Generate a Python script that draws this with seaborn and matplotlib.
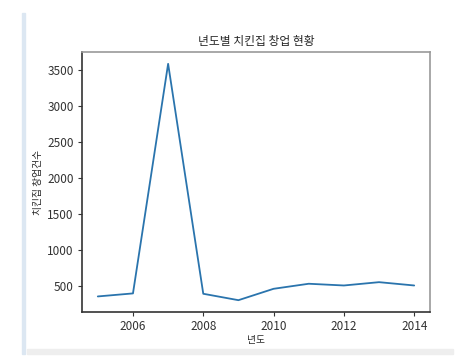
import pandas as pd
import matplotlib
matplotlib.use('Agg')
import matplotlib.pyplot as plt
import seaborn as sns
from matplotlib.patches import Rectangle

years = [2005, 2006, 2007, 2008, 2009, 2010, 2011, 2012, 2013, 2014]
counts = [352, 394, 3580, 389, 300, 458, 528, 504, 550, 504]

data = pd.DataFrame({'년도': years, '치킨집 창업건수': counts})

sns.set_style('ticks')
plt.rcParams['font.family'] = ['Noto Sans CJK KR', 'DejaVu Sans']

W, H = 459, 358
fig = plt.figure(figsize=(W / 100, H / 100), dpi=100)
fig.patch.set_facecolor('white')

# blog frame: light blue left rule and grey bottom band
fig.patches.append(Rectangle((22 / W, 1 - 354 / H), 3 / W, 341 / H,
                             transform=fig.transFigure, color='#dce7f2', zorder=0))
fig.patches.append(Rectangle((27 / W, 1 - 354 / H), 426 / W, 5 / H,
                             transform=fig.transFigure, color='#eeeeee', zorder=0))

ax = fig.add_axes([82 / W, 1 - 312 / H, 348 / W, 260 / H])
sns.lineplot(x='년도', y='치킨집 창업건수', data=data, ax=ax, color='#2a74ad', linewidth=1.3)

ax.set_xticks([2006, 2008, 2010, 2012, 2014])
ax.set_yticks([500, 1000, 1500, 2000, 2500, 3000, 3500])
ax.tick_params(labelsize=8.5, length=3, width=0.8, colors='#333333', pad=3)
for s in ['top', 'right']:
    ax.spines[s].set_color('#999999')
for s in ['left', 'bottom']:
    ax.spines[s].set_color('#333333')
for s in ax.spines.values():
    s.set_linewidth(1.2)

ax.set_title('년도별 치킨집 창업 현황', fontsize=8.5, pad=5)
ax.set_xlabel('년도', fontsize=7, labelpad=1)
ax.set_ylabel('치킨집 창업건수', fontsize=7, labelpad=3)

plt.savefig('out.png', dpi=100)
